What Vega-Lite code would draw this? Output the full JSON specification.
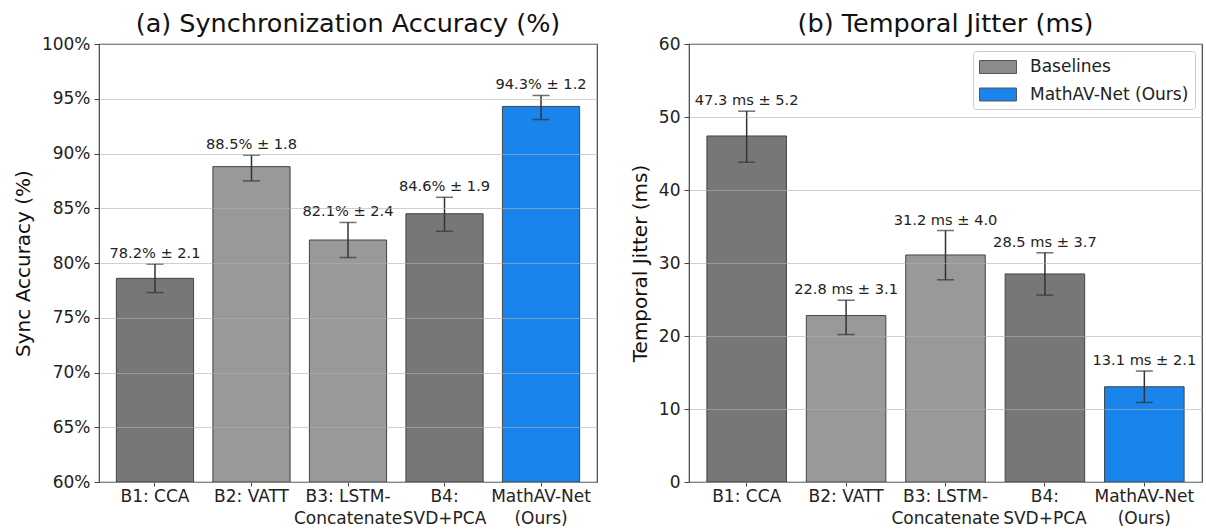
{
  "$schema": "https://vega.github.io/schema/vega-lite/v6.json",
  "padding": {"left": 12, "top": 10, "right": 6, "bottom": 0},
  "background": "white",
  "config": {
    "font": "DejaVu Sans",
    "view": {"stroke": "#444", "strokeWidth": 1.2},
    "axis": {
      "domain": false,
      "labelFont": "DejaVu Sans",
      "labelFontSize": 17,
      "labelColor": "#222",
      "titleFont": "DejaVu Sans",
      "titleFontSize": 20,
      "titleFontWeight": "normal",
      "titleColor": "#111",
      "tickColor": "#444",
      "tickSize": 5,
      "gridColor": "#b0b0b0",
      "gridOpacity": 0.6
    },
    "title": {"fontSize": 25.5, "fontWeight": "normal", "font": "DejaVu Sans", "color": "#111", "offset": -2}
  },
  "resolve": {"scale": {"fill": "independent", "color": "independent"}, "legend": {"fill": "independent", "color": "independent"}},
  "datasets": {
    "accuracy": [
      {"model": "B1: CCA", "group": "Baselines", "value": 78.6, "lower": 77.3, "upper": 79.9, "label": "78.2% ± 2.1"},
      {"model": "B2: VATT", "group": "Baselines", "value": 88.8, "lower": 87.5, "upper": 89.85, "label": "88.5% ± 1.8"},
      {"model": "B3: LSTM-Concatenate", "group": "Baselines", "value": 82.1, "lower": 80.5, "upper": 83.7, "label": "82.1% ± 2.4"},
      {"model": "B4: SVD+PCA", "group": "Baselines", "value": 84.5, "lower": 82.9, "upper": 86.0, "label": "84.6% ± 1.9"},
      {"model": "MathAV-Net (Ours)", "group": "MathAV-Net (Ours)", "value": 94.3, "lower": 93.1, "upper": 95.3, "label": "94.3% ± 1.2"}
    ],
    "jitter": [
      {"model": "B1: CCA", "group": "Baselines", "value": 47.4, "lower": 43.8, "upper": 50.8, "label": "47.3 ms ± 5.2"},
      {"model": "B2: VATT", "group": "Baselines", "value": 22.8, "lower": 20.2, "upper": 24.9, "label": "22.8 ms ± 3.1"},
      {"model": "B3: LSTM-Concatenate", "group": "Baselines", "value": 31.1, "lower": 27.7, "upper": 34.45, "label": "31.2 ms ± 4.0"},
      {"model": "B4: SVD+PCA", "group": "Baselines", "value": 28.5, "lower": 25.6, "upper": 31.4, "label": "28.5 ms ± 3.7"},
      {"model": "MathAV-Net (Ours)", "group": "MathAV-Net (Ours)", "value": 13.05, "lower": 10.9, "upper": 15.2, "label": "13.1 ms ± 2.1"}
    ]
  },
  "spacing": 31,
  "hconcat": [
    {
      "title": "(a) Synchronization Accuracy (%)",
      "width": 498,
      "height": 438,
      "data": {"name": "accuracy"},
      "encoding": {
        "x": {
          "field": "model", "type": "nominal", "sort": null,
          "scale": {"paddingInner": 0.2, "paddingOuter": 0.18},
          "axis": {
            "title": null, "labelAngle": 0, "grid": false, "labelPadding": 2, "labelLineHeight": 22, "tickSize": 4,
            "labelExpr": "datum.label == 'B3: LSTM-Concatenate' ? ['B3: LSTM-', 'Concatenate'] : datum.label == 'B4: SVD+PCA' ? ['B4:', 'SVD+PCA'] : datum.label == 'MathAV-Net (Ours)' ? ['MathAV-Net', '(Ours)'] : datum.label"
          }
        }
      },
      "layer": [
        {
          "mark": {"type": "bar", "stroke": "#444", "strokeWidth": 1},
          "encoding": {
            "y": {
              "field": "value", "type": "quantitative", "title": "Sync Accuracy (%)",
              "scale": {"domain": [60, 100], "zero": false, "nice": false},
              "axis": {"values": [60, 65, 70, 75, 80, 85, 90, 95, 100], "labelExpr": "datum.value + '%'", "grid": true, "zindex": 1, "labelPadding": 4, "titlePadding": 8}
            },
            "y2": {"datum": 60},
            "color": {
              "field": "model", "type": "nominal", "legend": null,
              "scale": {"domain": ["B1: CCA", "B2: VATT", "B3: LSTM-Concatenate", "B4: SVD+PCA", "MathAV-Net (Ours)"], "range": ["#777777", "#999999", "#999999", "#777777", "#1884ec"]}
            }
          }
        },
        {
          "mark": {"type": "rule", "color": "#333", "strokeWidth": 1.5},
          "encoding": {
            "y": {"field": "lower", "type": "quantitative", "title": "Sync Accuracy (%)"},
            "y2": {"field": "upper"}
          }
        },
        {
          "mark": {"type": "tick", "color": "#333", "size": 17, "thickness": 1.5},
          "encoding": {"y": {"field": "lower", "type": "quantitative", "title": "Sync Accuracy (%)"}}
        },
        {
          "mark": {"type": "tick", "color": "#333", "size": 17, "thickness": 1.5},
          "encoding": {"y": {"field": "upper", "type": "quantitative", "title": "Sync Accuracy (%)"}}
        },
        {
          "mark": {"type": "text", "dy": -6, "baseline": "alphabetic", "fontSize": 14.6, "color": "#222"},
          "encoding": {
            "y": {"field": "upper", "type": "quantitative", "title": "Sync Accuracy (%)"},
            "text": {"field": "label"}
          }
        }
      ]
    },
    {
      "title": "(b) Temporal Jitter (ms)",
      "width": 513,
      "height": 438,
      "data": {"name": "jitter"},
      "encoding": {
        "x": {
          "field": "model", "type": "nominal", "sort": null,
          "scale": {"paddingInner": 0.2, "paddingOuter": 0.18},
          "axis": {
            "title": null, "labelAngle": 0, "grid": false, "labelPadding": 2, "labelLineHeight": 22, "tickSize": 4,
            "labelExpr": "datum.label == 'B3: LSTM-Concatenate' ? ['B3: LSTM-', 'Concatenate'] : datum.label == 'B4: SVD+PCA' ? ['B4:', 'SVD+PCA'] : datum.label == 'MathAV-Net (Ours)' ? ['MathAV-Net', '(Ours)'] : datum.label"
          }
        }
      },
      "resolve": {"scale": {"fill": "independent"}},
      "layer": [
        {
          "mark": {"type": "bar", "opacity": 0},
          "encoding": {
            "y": {"field": "value", "type": "quantitative", "title": "Temporal Jitter (ms)"},
            "fill": {
              "field": "group", "type": "nominal",
              "scale": {"domain": ["Baselines", "MathAV-Net (Ours)"], "range": ["#8c8c8c", "#1884ec"]},
              "legend": {
                "title": null, "orient": "top-right", "offset": 7, "padding": 6,
                "fillColor": "white", "strokeColor": "#cccccc", "cornerRadius": 3,
                "symbolType": "M-2,-0.7L2,-0.7L2,0.7L-2,0.7Z", "symbolSize": 342, "symbolOffset": 9,
                "symbolOpacity": 1, "symbolStrokeColor": "#555", "symbolStrokeWidth": 1,
                "labelFontSize": 17, "labelFont": "DejaVu Sans", "labelColor": "#222", "labelOffset": 22, "rowPadding": 8.5
              }
            }
          }
        },
        {
          "mark": {"type": "bar", "stroke": "#444", "strokeWidth": 1},
          "encoding": {
            "y": {
              "field": "value", "type": "quantitative", "title": "Temporal Jitter (ms)",
              "scale": {"domain": [0, 60], "nice": false},
              "axis": {"values": [0, 10, 20, 30, 40, 50, 60], "grid": true, "zindex": 1, "labelPadding": 4, "titlePadding": 8}
            },
            "color": {
              "field": "model", "type": "nominal", "legend": null,
              "scale": {"domain": ["B1: CCA", "B2: VATT", "B3: LSTM-Concatenate", "B4: SVD+PCA", "MathAV-Net (Ours)"], "range": ["#777777", "#999999", "#999999", "#777777", "#1884ec"]}
            }
          }
        },
        {
          "mark": {"type": "rule", "color": "#333", "strokeWidth": 1.5},
          "encoding": {
            "y": {"field": "lower", "type": "quantitative", "title": "Temporal Jitter (ms)"},
            "y2": {"field": "upper"}
          }
        },
        {
          "mark": {"type": "tick", "color": "#333", "size": 17, "thickness": 1.5},
          "encoding": {"y": {"field": "lower", "type": "quantitative", "title": "Temporal Jitter (ms)"}}
        },
        {
          "mark": {"type": "tick", "color": "#333", "size": 17, "thickness": 1.5},
          "encoding": {"y": {"field": "upper", "type": "quantitative", "title": "Temporal Jitter (ms)"}}
        },
        {
          "mark": {"type": "text", "dy": -6, "baseline": "alphabetic", "fontSize": 14.6, "color": "#222"},
          "encoding": {
            "y": {"field": "upper", "type": "quantitative", "title": "Temporal Jitter (ms)"},
            "text": {"field": "label"}
          }
        }
      ]
    }
  ]
}
